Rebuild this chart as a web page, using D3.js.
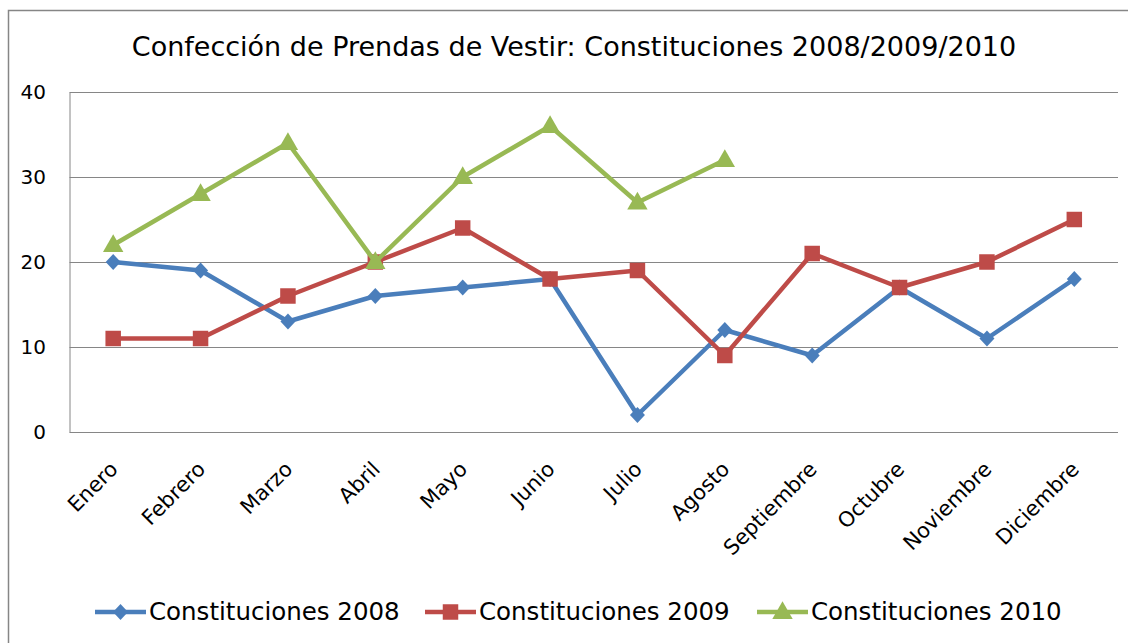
<!DOCTYPE html>
<html><head><meta charset="utf-8">
<script src="https://cdn.jsdelivr.net/npm/d3@7"></script>
<style>html,body{margin:0;padding:0;background:#fff;}svg{display:block;font-family:"DejaVu Sans",Verdana,sans-serif;}</style>
</head><body>
<svg id="c" width="1128" height="643"></svg>
<script>
const months = ["Enero","Febrero","Marzo","Abril","Mayo","Junio","Julio","Agosto","Septiembre","Octubre","Noviembre","Diciembre"];
const s2008 = [20,19,13,16,17,18,2,12,9,17,11,18];
const s2009 = [11,11,16,20,24,18,19,9,21,17,20,25];
const s2010 = [22,28,34,20,30,36,27,32,null,null,null,null];
const yTicks = [0,10,20,30,40];
const title = "Confección de Prendas de Vestir: Constituciones 2008/2009/2010";
const seriesNames = ["Constituciones 2008","Constituciones 2009","Constituciones 2010"];
const colors = ["#4a7ebb","#be4b48","#98b954"];

const markerPath = [
  "M0,-8L7.5,0L0,8L-7.5,0Z",
  d3.symbol().type(d3.symbolSquare).size(240)(),
  d3.symbol().type(d3.symbolTriangle).size(180)()
];

const svg = d3.select("#c");
svg.append("rect").attr("x",8.5).attr("y",10.5).attr("width",1140).attr("height",660)
  .attr("fill","#fff").attr("stroke","#868686").attr("stroke-width",1.5);

const L=69.5, R=1118, T=92, B=432;
const x = d3.scaleBand().domain(months).range([L,R]);
const y = d3.scaleLinear().domain([0,40]).range([B,T]);

// gridlines
svg.append("g").selectAll("line").data(yTicks.filter(d=>d>0)).join("line")
  .attr("x1",L).attr("x2",R).attr("y1",d=>Math.round(y(d))+0.5).attr("y2",d=>Math.round(y(d))+0.5)
  .attr("stroke","#868686").attr("stroke-width",1);

// y axis
const ya = svg.append("g").attr("transform",`translate(${L},0)`)
  .call(d3.axisLeft(y).tickValues(yTicks).tickSize(0).tickPadding(23.5));
ya.select(".domain").attr("stroke","#868686");
ya.selectAll("text").attr("font-size",20).attr("fill","#000").attr("font-family","DejaVu Sans");

// x axis
const xa = svg.append("g").attr("transform",`translate(0,${B+0.5})`)
  .call(d3.axisBottom(x).tickSize(0).tickPadding(0));
xa.select(".domain").attr("stroke","#868686").attr("d",`M${L},0H${R}`);
xa.selectAll("text").attr("font-size",21).attr("fill","#000").attr("font-family","DejaVu Sans")
  .attr("text-anchor","end").attr("dy",0)
  .attr("transform","translate(6,38) rotate(-45)");

const cx = d => x(d)+x.bandwidth()/2;
const all = [s2008,s2009,s2010];
all.forEach((s,i)=>{
  const pts = months.map((m,j)=>({m, v:s[j]}));
  const line = d3.line().defined(d=>d.v!=null).x(d=>cx(d.m)).y(d=>y(d.v));
  svg.append("path").datum(pts).attr("d",line).attr("fill","none")
    .attr("stroke",colors[i]).attr("stroke-width",4.5).attr("stroke-linejoin","round");
  svg.append("g").selectAll("path").data(pts.filter(d=>d.v!=null)).join("path")
    .attr("d",markerPath[i])
    .attr("transform",d=>`translate(${cx(d.m)},${y(d.v)+(i==2?1:0)})`)
    .attr("fill",colors[i]);
});

// title
svg.append("text").attr("x",574).attr("y",56).attr("text-anchor","middle")
  .attr("font-size",27).attr("fill","#000").text(title);

// legend
const legX=[95,425,757];
seriesNames.forEach((n,i)=>{
  const g=svg.append("g").attr("transform",`translate(${legX[i]},612)`);
  g.append("line").attr("x1",0).attr("x2",51).attr("stroke",colors[i]).attr("stroke-width",4.5);
  g.append("path").attr("d",markerPath[i]).attr("transform",`translate(25.5,${i==2?1:0})`).attr("fill",colors[i]);
  g.append("text").attr("x",54).attr("y",8).attr("font-size",24.5).attr("fill","#000").text(n);
});
</script>
</body></html>
